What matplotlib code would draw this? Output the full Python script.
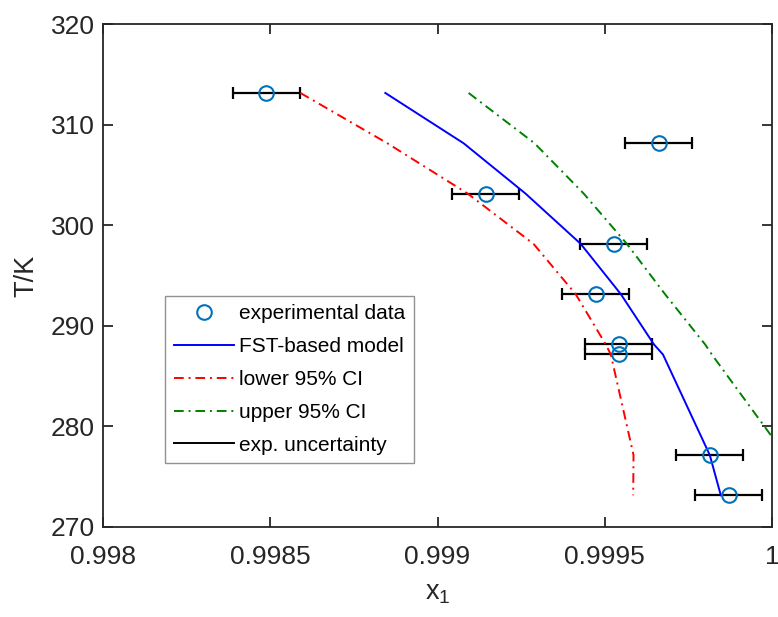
import numpy as np
import matplotlib
matplotlib.use("Agg")
import matplotlib.pyplot as plt
from matplotlib.lines import Line2D

plt.rcParams['font.family'] = ['Liberation Sans', 'DejaVu Sans']

# temperatures (K)
T = np.array([313.15, 308.15, 303.15, 298.15, 293.15, 288.15, 287.15, 277.15, 273.15])
# experimental mole fractions
x_exp = np.array([0.998488, 0.999662, 0.999144, 0.999527, 0.999473,
                  0.999542, 0.999542, 0.999814, 0.999871])
x_err = 0.0001
# model and confidence bounds
x_model = np.array([0.998844, 0.999078, 0.999263, 0.999428, 0.999548,
                    0.999647, 0.999674, 0.999814, 0.999847])
x_lower = np.array([0.998590, 0.998850, 0.999090, 0.999287, 0.999413,
                    0.999503, 0.999518, 0.999586, 0.999585])
x_upper = np.array([0.999093, 0.999290, 0.999437, 0.999566, 0.999680,
                    0.999800, 0.999820, 1.000040, 1.000130])

fig = plt.figure(figsize=(7.78, 6.17), dpi=100)
ax = fig.add_axes([0.1324, 0.1459, 0.8599, 0.8151])

dashdot = (0, (5, 2.5, 1, 2.5))

ax.errorbar(x_exp, T, xerr=x_err, fmt='none', ecolor='k', elinewidth=1.6,
            capsize=4, capthick=1.6, zorder=2)
ax.plot(x_exp, T, 'o', mfc='none', mec='#0072BD', mew=1.5, ms=10.5,
        label='experimental data', zorder=4)
ax.plot(x_model, T, '-', color='b', lw=1.4, label='FST-based model', zorder=3)
ax.plot(x_lower, T, color='r', lw=1.4, ls=dashdot, label='lower 95% CI', zorder=3)
ax.plot(x_upper, T, color='g', lw=1.4, ls=dashdot, label='upper 95% CI', zorder=3)
ax.add_line(Line2D([], [], color='k', lw=1.4, label='exp. uncertainty'))

ax.set_xlim(0.998, 1.0)
ax.set_ylim(270, 320)
ax.set_xticks([0.998, 0.9985, 0.999, 0.9995, 1.0])
ax.set_xticklabels(['0.998', '0.9985', '0.999', '0.9995', '1'])
ax.set_yticks(np.arange(270, 321, 10))

c = '#262626'
for s in ax.spines.values():
    s.set_color(c)
    s.set_linewidth(1.3)
ax.tick_params(direction='in', length=7, width=1.3, colors=c,
               labelsize=19, top=True, right=True)
ax.tick_params(axis='x', pad=13)
ax.tick_params(axis='y', pad=6)
ax.set_xlabel(r'$\mathregular{x_1}$', fontsize=19.5, color=c, labelpad=8)
ax.set_ylabel('T/K', fontsize=19.5, color=c, labelpad=8)

leg = ax.legend(loc='lower left', bbox_to_anchor=(0.093, 0.127), fontsize=15,
                frameon=True, fancybox=False, edgecolor='#777777',
                handlelength=2.9, labelspacing=0.67, handletextpad=0.25,
                borderpad=0.4, borderaxespad=0)
leg.get_frame().set_linewidth(1.0)

fig.savefig('out.png', dpi=100)
